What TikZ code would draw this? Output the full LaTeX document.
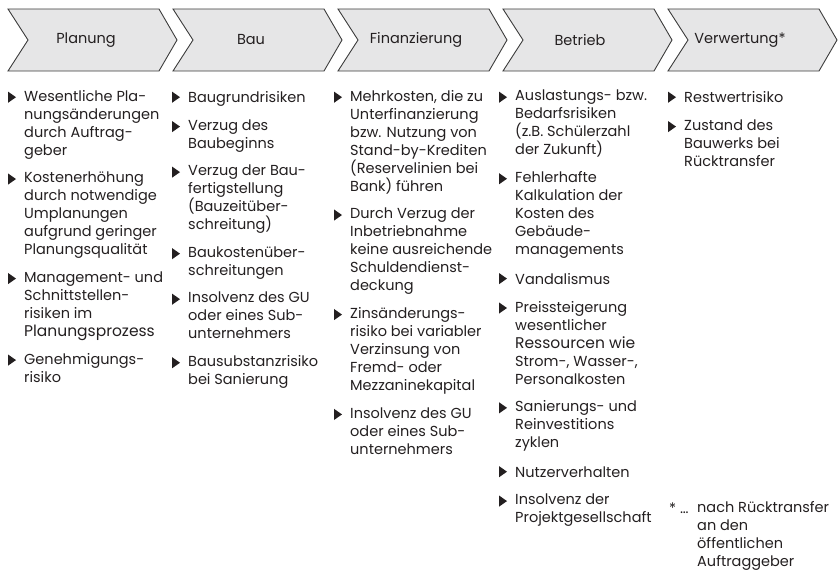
\documentclass[tikz,border=0pt]{standalone}
\usepackage{fontspec}
\setmainfont{Poppins}
\usetikzlibrary{calc}
\definecolor{ink}{HTML}{231F20}
\definecolor{chevfill}{HTML}{E6E6E7}
\definecolor{chevline}{HTML}{3C3C3C}
\tikzset{
  chev/.style={fill=chevfill, draw=chevline, line width=0.9pt, line join=miter},
  headtxt/.style={font=\fontsize{14.5}{18}\selectfont, text=ink, inner sep=0pt},
  item/.style={font=\fontsize{14.5}{18}\selectfont, text=ink, align=left, inner sep=0pt,
    anchor=north west, execute at begin node=\strut, execute at end node=\strut},
  bul/.style={fill=ink},
}
\newcommand\chevronat[1]{%
  \draw[chev] (#1,9) -- ++(151,0) -- ++(18,31) -- ++(-18,31) -- ++(-151,0) -- ++(20,-31) -- cycle;}
\newcommand\bulletfor[1]{%
  \fill[bul] ($(#1.north west)+(-16,1.6)$) -- ++(8,5.6) -- ++(-8,5.6) -- cycle;}
\begin{document}
\begin{tikzpicture}[x=1pt,y=-1pt]
\useasboundingbox (0,0) rectangle (840,578);
% header chevrons
\chevronat{8}
\chevronat{173}
\chevronat{338}
\chevronat{503}
\chevronat{668}
\node[headtxt] (hPlan) at (86,40) {Planung};
\node[headtxt] (hBau) at (251,40) {Bau};
\node[headtxt] (hFin) at (416,40) {Finanzierung};
\node[headtxt] (hBetr) at (580,40) {Betrieb};
\node[headtxt] (hVerw) at (740,40) {Verwertung*};
% column 1
\node[item] (p1) at (24,90) {Wesentliche Pla-\\nungsänderungen\\durch Auftrag-\\geber};
\node[item] (p2) at ([yshift=-11pt]p1.south west) {Kostenerhöhung\\durch notwendige\\Umplanungen\\aufgrund geringer\\Planungsqualität};
\node[item] (p3) at ([yshift=-11pt]p2.south west) {Management- und\\Schnittstellen-\\risiken im\\{\fontsize{15.5}{18}\selectfont Planungsprozess}};
\node[item] (p4) at ([yshift=-11pt]p3.south west) {Genehmigungs-\\risiko};
% column 2
\node[item] (b1) at (188,90) {Baugrundrisiken};
\node[item] (b2) at ([yshift=-11pt]b1.south west) {Verzug des\\Baubeginns};
\node[item] (b3) at ([yshift=-11pt]b2.south west) {Verzug der Bau-\\fertigstellung\\(Bauzeitüber-\\schreitung)};
\node[item] (b4) at ([yshift=-11pt]b3.south west) {Baukostenüber-\\schreitungen};
\node[item] (b5) at ([yshift=-11pt]b4.south west) {Insolvenz des GU\\oder eines Sub-\\unternehmers};
\node[item] (b6) at ([yshift=-11pt]b5.south west) {Bausubstanzrisiko\\bei Sanierung};
% column 3
\node[item] (f1) at (350,90) {Mehrkosten, die zu\\Unterfinanzierung\\bzw. Nutzung von\\Stand-by-Krediten\\(Reservelinien bei\\Bank) führen};
\node[item] (f2) at ([yshift=-11pt]f1.south west) {Durch Verzug der\\Inbetriebnahme\\keine ausreichende\\Schuldendienst-\\deckung};
\node[item] (f3) at ([yshift=-11pt]f2.south west) {Zinsänderungs-\\risiko bei variabler\\Verzinsung von\\Fremd- oder\\Mezzaninekapital};
\node[item] (f4) at ([yshift=-11pt]f3.south west) {Insolvenz des GU\\oder eines Sub-\\unternehmers};
% column 4
\node[item] (r1) at (515,90) {Auslastungs- bzw.\\Bedarfsrisiken\\(z.B. Schülerzahl\\der Zukunft)};
\node[item] (r2) at ([yshift=-11pt]r1.south west) {Fehlerhafte\\Kalkulation der\\Kosten des\\Gebäude-\\managements};
\node[item] (r3) at ([yshift=-11pt]r2.south west) {Vandalismus};
\node[item] (r4) at ([yshift=-11pt]r3.south west) {Preissteigerung\\wesentlicher\\{\fontsize{15.5}{18}\selectfont Ressourcen wie}\\Strom-, Wasser-,\\Personalkosten};
\node[item] (r5) at ([yshift=-11pt]r4.south west) {Sanierungs- und\\Reinvestitions\\zyklen};
\node[item] (r6) at ([yshift=-11pt]r5.south west) {Nutzerverhalten};
\node[item] (r7) at ([yshift=-11pt]r6.south west) {Insolvenz der\\Projektgesellschaft};
% column 5
\node[item] (v1) at (684,90) {Restwertrisiko};
\node[item] (v2) at ([yshift=-11pt]v1.south west) {Zustand des\\Bauwerks bei\\Rücktransfer};
% bullets
\foreach \n in {p1,p2,p3,p4,b1,b2,b3,b4,b5,b6,f1,f2,f3,f4,r1,r2,r3,r4,r5,r6,r7,v1,v2}{\bulletfor{\n}}
% footnote
\node[item] (fn) at (697,501) {nach Rücktransfer\\an den\\öffentlichen\\Auftraggeber};
\node[item] (fstar) at (669,501) {*};
\node[item] (fdots) at (680,501) {…};
\end{tikzpicture}
\end{document}
